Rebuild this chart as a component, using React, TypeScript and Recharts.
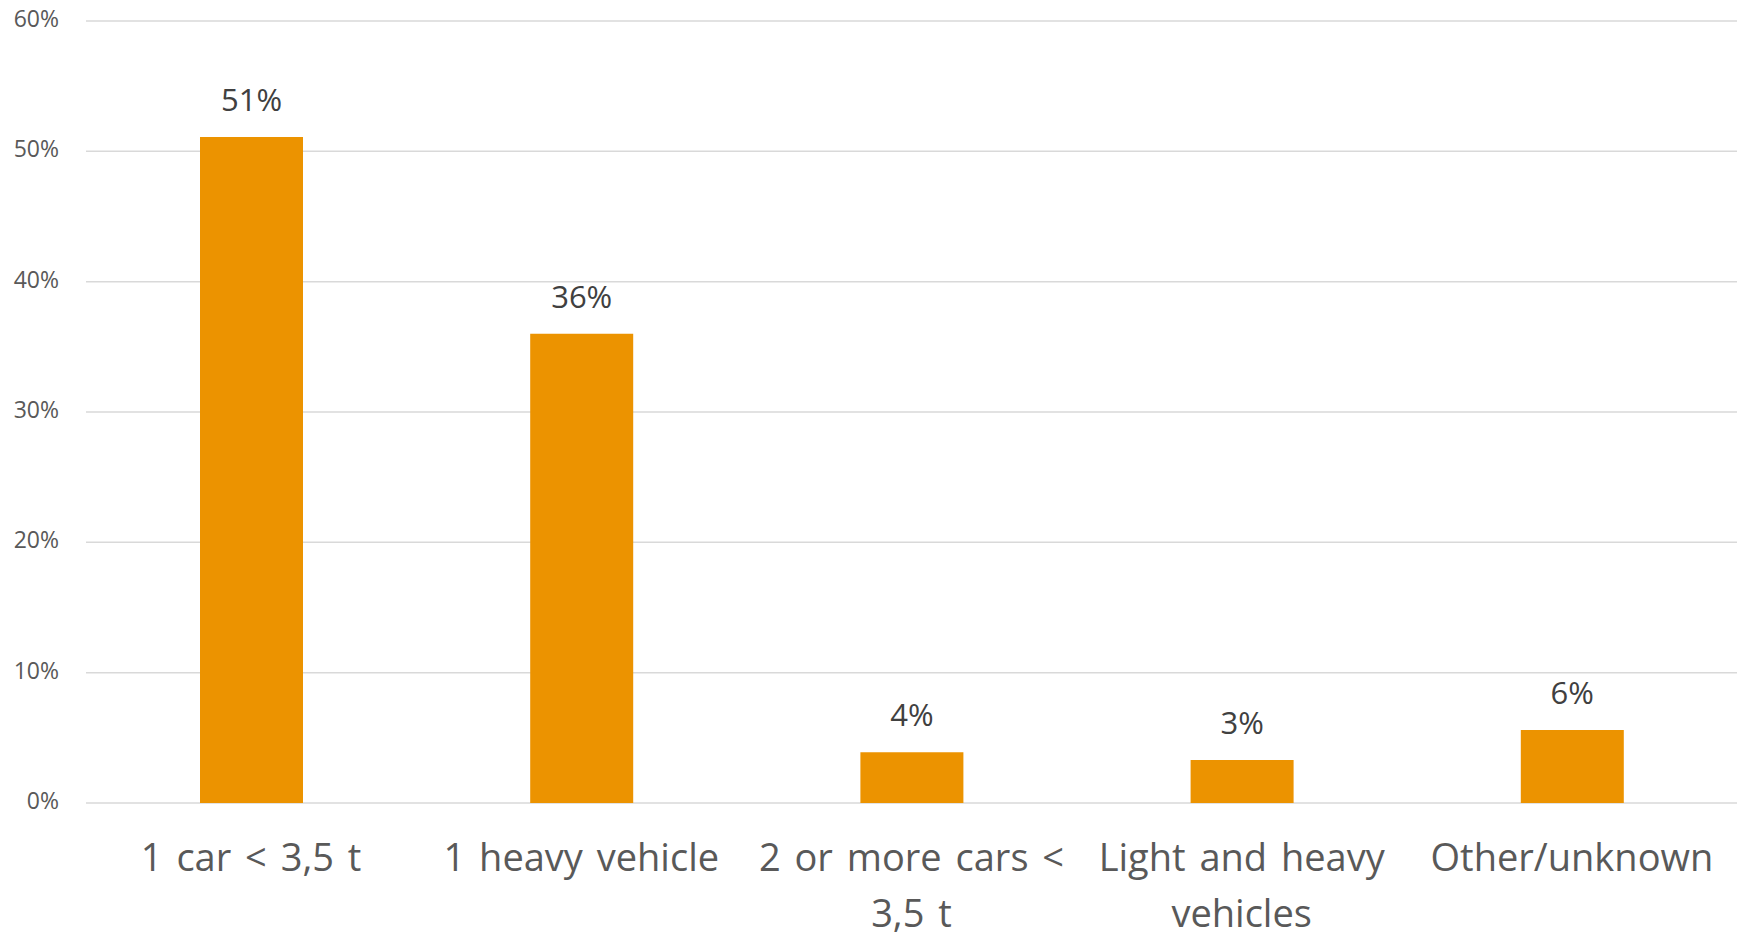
import React from "react";
import { BarChart, Bar, XAxis, YAxis, CartesianGrid, LabelList } from "recharts";

// Share of cases by vehicle involvement (percent)
const categories: string[] = [
  "1 car < 3,5 t",
  "1 heavy vehicle",
  "2 or more cars < 3,5 t",
  "Light and heavy vehicles",
  "Other/unknown",
];
const shares: number[] = [51.1, 36.0, 3.9, 3.3, 5.6];
const yTicks: number[] = [0, 10, 20, 30, 40, 50, 60];

const data = categories.map((name, i) => ({ name, share: shares[i] }));

const FONT = "'Open Sans', 'Noto Sans', sans-serif";
const BAR_COLOR = "#EC9300";
const TICK_FONT_SIZE = 38;
const WORD_SPACING = 4;
const MAX_LINE_WIDTH = 325;
const LINE_HEIGHT = 56;

let measureCtx: CanvasRenderingContext2D | null = null;
const measure = (s: string): number => {
  if (!measureCtx) {
    measureCtx = document.createElement("canvas").getContext("2d");
  }
  if (!measureCtx) return s.length * TICK_FONT_SIZE * 0.5;
  measureCtx.font = `${TICK_FONT_SIZE}px 'Open Sans'`;
  const spaces = (s.match(/ /g) || []).length;
  return measureCtx.measureText(s).width + spaces * WORD_SPACING;
};

// Greedy word wrap so long category names fit inside their band
const wrapWords = (text: string): string[] => {
  const words = text.split(" ");
  const lines: string[] = [];
  let current = "";
  for (const w of words) {
    const candidate = current ? `${current} ${w}` : w;
    if (current && measure(candidate) > MAX_LINE_WIDTH) {
      lines.push(current);
      current = w;
    } else {
      current = candidate;
    }
  }
  if (current) lines.push(current);
  return lines;
};

const CategoryTick = (props: any) => {
  const { x, y, payload } = props;
  const lines = wrapWords(String(payload.value));
  return (
    <text
      x={x}
      y={y}
      textAnchor="middle"
      fill="#595959"
      style={{ fontSize: TICK_FONT_SIZE, fontFamily: FONT, wordSpacing: WORD_SPACING }}
    >
      {lines.map((line, i) => (
        <tspan key={i} x={x} dy={i === 0 ? "0.71em" : LINE_HEIGHT}>
          {line}
        </tspan>
      ))}
    </text>
  );
};

const PercentTick = (props: any) => {
  const { x, y, payload } = props;
  return (
    <text
      x={x}
      y={y - 2}
      dy="0.355em"
      textAnchor="end"
      fill="#595959"
      style={{ fontSize: 23, fontFamily: FONT }}
    >
      {`${payload.value}%`}
    </text>
  );
};

export default function App() {
  return (
    <div style={{ position: "absolute", left: 0, top: 0, background: "#fff" }}>
      <BarChart
        width={1742}
        height={937}
        data={data}
        margin={{ top: 21, right: 5, bottom: 0, left: 0 }}
      >
        <CartesianGrid vertical={false} stroke="#d9d9d9" strokeWidth={1.5} />
        <XAxis
          dataKey="name"
          axisLine={false}
          tickLine={false}
          tickSize={0}
          tickMargin={41}
          height={134}
          interval={0}
          tick={<CategoryTick />}
        />
        <YAxis
          domain={[0, 60]}
          ticks={yTicks}
          axisLine={false}
          tickLine={false}
          tickSize={0}
          tickMargin={27}
          width={86}
          tick={<PercentTick />}
        />
        <Bar dataKey="share" fill={BAR_COLOR} barSize={103} isAnimationActive={false}>
          <LabelList
            dataKey="share"
            position="top"
            offset={26}
            formatter={(v: number) => `${Math.round(v)}%`}
            style={{ fontSize: 31, fill: "#404040", fontFamily: FONT }}
          />
        </Bar>
      </BarChart>
    </div>
  );
}
